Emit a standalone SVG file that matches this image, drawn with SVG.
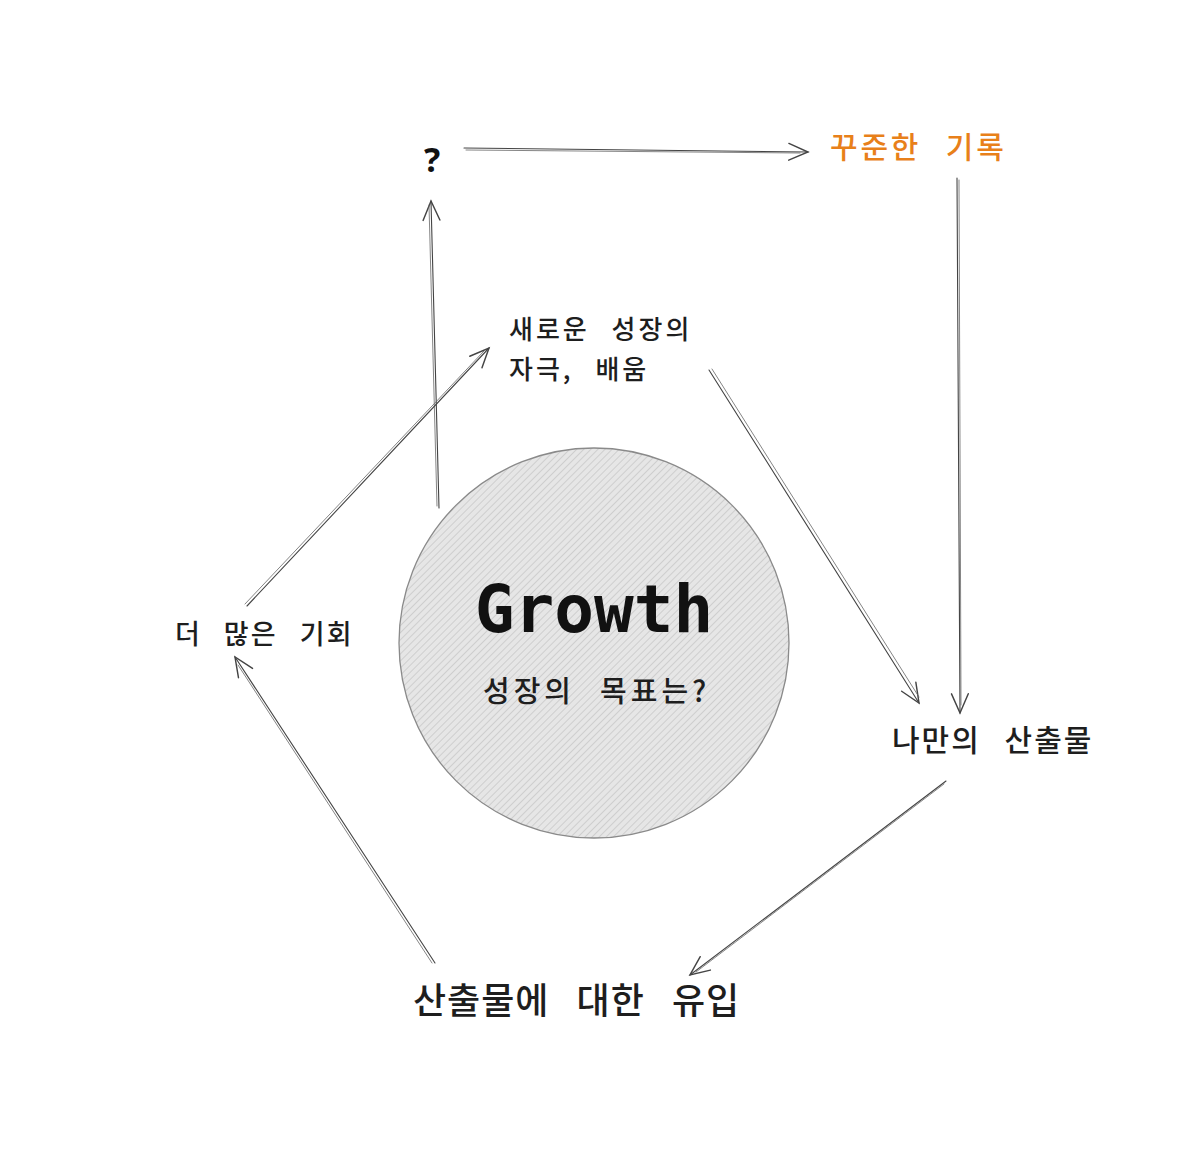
<svg xmlns="http://www.w3.org/2000/svg" width="1182" height="1156" viewBox="0 0 1182 1156">
<style>
.k{font-family:"Noto Sans CJK KR","Noto Sans",sans-serif;fill:#1e1e1e;word-spacing:0.5em;font-weight:500}
.c{fill:none;stroke:#444;stroke-width:1.1;stroke-linecap:round}
.c2{fill:none;stroke:#666;stroke-width:0.8;stroke-linecap:round}
</style>
<defs>
<pattern id="h" width="5" height="5" patternUnits="userSpaceOnUse" patternTransform="rotate(45)">
<rect width="5" height="5" fill="#e6e6e6"/>
<line x1="0" y1="0" x2="0" y2="5" stroke="#c4c4c4" stroke-width="1.4"/>
</pattern>
<marker id="a" markerUnits="userSpaceOnUse" markerWidth="30" markerHeight="30" refX="0" refY="0" viewBox="-20 -10 25 20" orient="auto" overflow="visible">
<path d="M-16 -7 L0 0 L-16 7" fill="none" stroke="#444" stroke-width="1.2" stroke-linecap="round"/>
</marker>
</defs>
<rect width="1182" height="1156" fill="#fff"/>
<g id="connectors">
<path class="c" d="M439 508 L431 201" marker-end="url(#a)"/><path class="c2" d="M437 506 L429 205"/>
<path class="c" d="M464 148 L808 152" marker-end="url(#a)"/><path class="c2" d="M466 150 L800 153"/>
<path class="c" d="M957 178 L960 713" marker-end="url(#a)"/><path class="c2" d="M959 180 L961 705"/>
<path class="c" d="M709 370 L919 703" marker-end="url(#a)"/><path class="c2" d="M712 369 L919 697"/>
<path class="c" d="M946 781 L690 975" marker-end="url(#a)"/><path class="c2" d="M944 784 L696 972"/>
<path class="c" d="M435 963 L235 657" marker-end="url(#a)"/><path class="c2" d="M432 963 L238 665"/>
<path class="c" d="M247 606 L489 348" marker-end="url(#a)"/><path class="c2" d="M245 604 L484 351"/>
</g>
<g id="growth">
<circle cx="594" cy="643" r="195" fill="url(#h)" stroke="#8a8a8a" stroke-width="1.3"/>
<text x="594" y="632" text-anchor="middle" font-family="'DejaVu Sans Mono',monospace" font-weight="bold" font-size="66" fill="#111">Growth</text>
<text class="k" x="483" y="702" font-size="29" letter-spacing="4">성장의 목표는?</text>
</g>
<g id="q"><text x="432" y="172" text-anchor="middle" font-family="'Noto Sans',sans-serif" font-weight="bold" font-size="34" fill="#111">?</text></g>
<g id="record"><text class="k" x="830" y="158" font-size="30" letter-spacing="2.8" style="fill:#e8801a">꾸준한 기록</text></g>
<g id="stimulus">
<text class="k" x="509" y="339" font-size="26" letter-spacing="3">새로운 성장의</text>
<text class="k" x="509" y="379" font-size="26" letter-spacing="3">자극, 배움</text>
</g>
<g id="output"><text class="k" x="892" y="751" font-size="30" letter-spacing="2">나만의 산출물</text></g>
<g id="inflow"><text class="k" x="413" y="1014" font-size="36" letter-spacing="1">산출물에 대한 유입</text></g>
<g id="chance"><text class="k" x="175" y="644" font-size="27" letter-spacing="2.2">더 많은 기회</text></g>
</svg>
